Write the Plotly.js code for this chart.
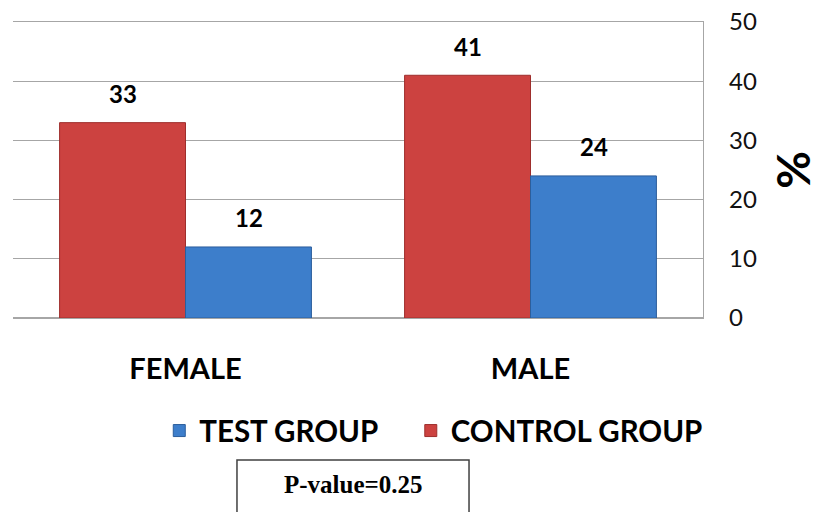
<!DOCTYPE html>
<html>
<head>
<meta charset="utf-8">
<script src="https://cdn.plot.ly/plotly-3.0.1.min.js"></script>
<style>
html,body{margin:0;padding:0;background:#fff;}
#chart{width:820px;height:512px;}
</style>
</head>
<body>
<div id="chart"></div>
<script>
// Data
var categories = ['FEMALE', 'MALE'];
var controlGroup = [33, 41];
var testGroup = [12, 24];
var seriesNames = ['CONTROL GROUP', 'TEST GROUP'];
var yTicks = [0, 10, 20, 30, 40, 50];
var pValueText = 'P-value=0.25';

var red = '#CC4240', blue = '#3D7ECB';

var traces = [
  {type: 'bar', name: seriesNames[0], x: categories, y: controlGroup, legend: 'legend2',
   marker: {color: red, line: {color: '#9E2E2C', width: 1}}, hoverinfo: 'none'},
  {type: 'bar', name: seriesNames[1], x: categories, y: testGroup, legend: 'legend',
   marker: {color: blue, line: {color: '#2C5E9C', width: 1}}, hoverinfo: 'none'}
];

var annotations = [];
var series = [controlGroup, testGroup];
var shifts = [-63, 63];
series.forEach(function (vals, s) {
  vals.forEach(function (v, i) {
    annotations.push({x: i, y: v, xref: 'x', yref: 'y', text: String(v), showarrow: false,
      xshift: shifts[s], yshift: 29, font: {family: 'Lato', size: 24, color: '#000', weight: 'bold'}});
  });
});
annotations.push({xref: 'paper', yref: 'paper', x: 0.4928, y: -0.564, yanchor: 'middle',
  text: '<b>' + pValueText + '</b>',
  showarrow: false, font: {family: 'Liberation Serif', size: 25, color: '#000'}});

var legendFont = {family: 'Lato', size: 29.5, color: '#000', weight: 'bold'};
var layout = {
  width: 820, height: 512,
  margin: {l: 13, r: 117, t: 22, b: 194},
  paper_bgcolor: '#fff', plot_bgcolor: '#fff',
  barmode: 'group', bargap: 0.27, bargroupgap: 0,
  showlegend: true,
  legend: {orientation: 'h', x: 0.212, y: -0.2935, xanchor: 'left', yanchor: 'top', font: legendFont},
  legend2: {orientation: 'h', x: 0.5765, y: -0.2935, xanchor: 'left', yanchor: 'top', font: legendFont},
  xaxis: {type: 'category', showgrid: false, zeroline: false, showline: true, mirror: true,
    linecolor: '#A6A6A6', linewidth: 1.3, ticks: '',
    tickfont: {family: 'Lato', size: 29, color: '#000', weight: 'bold'}, ticklabelstandoff: 25},
  yaxis: {side: 'right', range: [0, 50], tickvals: yTicks, ticktext: yTicks.map(String),
    showgrid: true, gridcolor: '#A6A6A6', gridwidth: 1.3, zeroline: true, zerolinecolor: '#A6A6A6',
    zerolinewidth: 1.3, showline: true, linecolor: '#A6A6A6', linewidth: 1.3, ticks: '',
    ticklabelstandoff: 20, tickfont: {family: 'Lato', size: 24, color: '#111'},
    title: {text: '%', standoff: 33, font: {family: 'Lato', size: 46, color: '#000', weight: 'bold'}}},
  annotations: annotations,
  shapes: [{type: 'rect', xref: 'paper', yref: 'paper', x0: 0.3246, x1: 0.6609, y0: -0.48, y1: -0.70,
    line: {color: '#404040', width: 1.5}, fillcolor: 'rgba(0,0,0,0)'}]
};

Plotly.newPlot('chart', traces, layout, {displayModeBar: false, staticPlot: true});
</script>
</body>
</html>
